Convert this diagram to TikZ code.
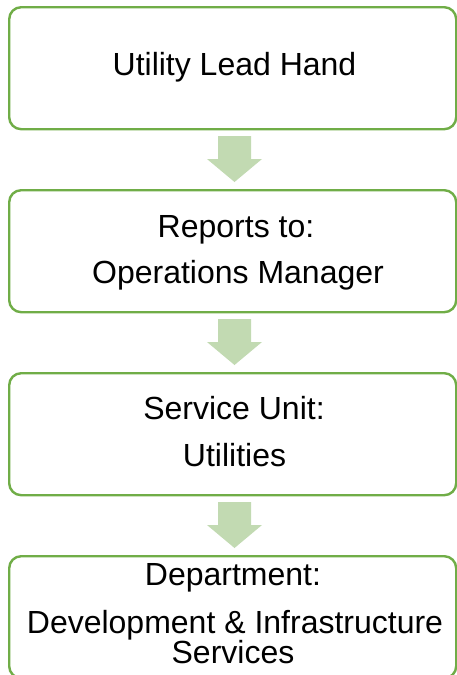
\documentclass[tikz,border=0pt]{standalone}
\usepackage{fontspec}
\setmainfont{Liberation Sans}
\usetikzlibrary{calc}
\definecolor{boxgreen}{RGB}{112,173,71}
\definecolor{arrowgreen}{RGB}{194,218,178}
\tikzset{
  stagebox/.style={draw=boxgreen, line width=2.4pt, rounded corners=12pt, fill=white,
    minimum width=447pt, minimum height=122pt, inner sep=0pt, anchor=north west},
  label/.style={font=\fontsize{32}{36}\selectfont, anchor=base, inner sep=0pt, text=black},
  blockarrow/.style={fill=arrowgreen, draw=none}
}
\newcommand{\downblock}[2]{%
  \fill[blockarrow]
    ($(#1)+(-16.5pt,-8pt)$) -- ($(#1)+(16.5pt,-8pt)$)
    -- ($(#1)+(16.5pt,-31pt)$) -- ($(#1)+(27.5pt,-31pt)$)
    -- ($(#2)+(0pt,7pt)$)
    -- ($(#1)+(-27.5pt,-31pt)$) -- ($(#1)+(-16.5pt,-31pt)$) -- cycle;}
\begin{document}
\begin{tikzpicture}[x=1pt,y=-1pt]
\useasboundingbox (0,0) rectangle (457,675);
\clip (0,0) rectangle (457,675);
\node[stagebox] (b1) at (8,6) {};
\node[stagebox] (b2) at (8,189) {};
\node[stagebox] (b3) at (8,372) {};
\node[stagebox] (b4) at (8,555) {};
% connectors: block arrows centred at x = 234.5
\coordinate (a1s) at (234.5,128);
\coordinate (a1e) at (234.5,189);
\coordinate (a2s) at (234.5,311);
\coordinate (a2e) at (234.5,372);
\coordinate (a3s) at (234.5,494);
\coordinate (a3e) at (234.5,555);
\downblock{a1s}{a1e}
\downblock{a2s}{a2e}
\downblock{a3s}{a3e}
\node[label] (t1) at (234.5,75) {Utility Lead Hand};
\node[label] (t2a) at (236,237) {Reports to:};
\node[label] (t2b) at (238,283) {Operations Manager};
\node[label] (t3a) at (234,419) {Service Unit:};
\node[label] (t3b) at (234.5,466) {Utilities};
\node[label] (t4a) at (233,585) {Department:};
\node[label] (t4b) at (235,633) {Development \& Infrastructure};
\node[label] (t4c) at (233,663) {Services};
\end{tikzpicture}
\end{document}
